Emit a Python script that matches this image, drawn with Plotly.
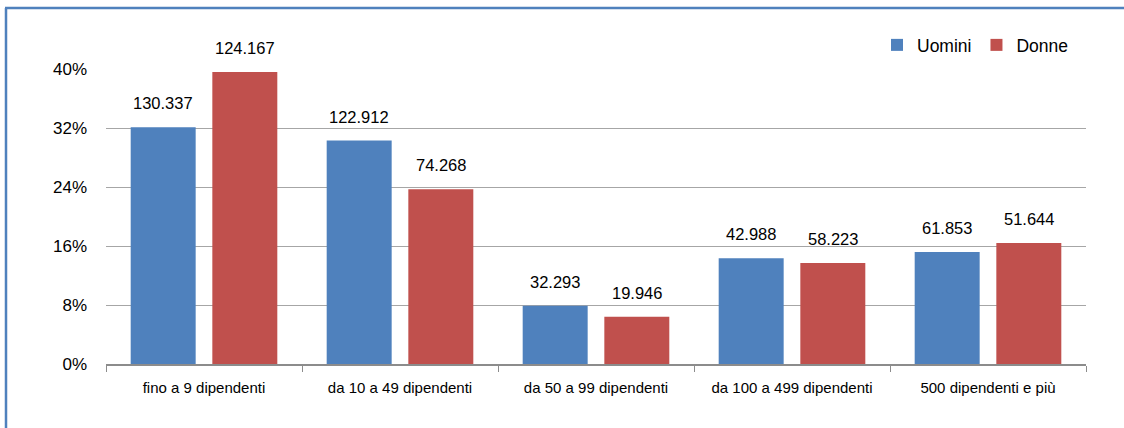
import plotly.graph_objects as go

categories = ["fino a 9 dipendenti", "da 10 a 49 dipendenti", "da 50 a 99 dipendenti",
              "da 100 a 499 dipendenti", "500 dipendenti e più"]
uomini_pct = [32.1, 30.3, 7.9, 14.35, 15.2]
donne_pct = [39.6, 23.7, 6.4, 13.7, 16.4]
uomini_n = [130337, 122912, 32293, 42988, 61853]
donne_n = [124167, 74268, 19946, 58223, 51644]
y_ticks = [0, 8, 16, 24, 32, 40]

BLUE = "#4F81BD"
RED = "#C0504D"
FONT = "Liberation Sans, Arial, sans-serif"


def fmt(v):
    return f"{v:,}".replace(",", ".")


fig = go.Figure()
fig.add_trace(go.Bar(name="Uomini", x=categories, y=uomini_pct, marker_color=BLUE,
                     marker_line_width=0))
fig.add_trace(go.Bar(name="Donne", x=categories, y=donne_pct, marker_color=RED,
                     marker_line_width=0))

BARGAP, GROUPGAP = 0.167, 0.204
slot = (1 - BARGAP) / 2
# value labels above bars (offset groups: Uomini left, Donne right)
annotations = []
for i, c in enumerate(categories):
    for vals, nums, off in ((uomini_pct, uomini_n, -slot / 2), (donne_pct, donne_n, slot / 2)):
        annotations.append(dict(x=i + off, y=vals[i], xref="x", yref="y",
                                text=fmt(nums[i]), showarrow=False, yanchor="middle",
                                yshift=24, font=dict(size=16.5, color="#000", family=FONT)))

L, R, T, B = 106, 38, 69, 64
W, H = 1124, 428
pw, ph = W - L - R, H - T - B


def px(x):
    return (x - L) / pw


def py(y):
    return (H - B - y) / ph


shapes = [
    dict(type="line", xref="paper", yref="paper", x0=px(6), x1=px(6), y0=py(440), y1=py(8),
         line=dict(color=BLUE, width=2.5)),
    dict(type="line", xref="paper", yref="paper", x0=px(5), x1=px(1140), y0=py(8), y1=py(8),
         line=dict(color=BLUE, width=2.5)),
]

fig.update_layout(
    width=W, height=H,
    margin=dict(l=L, r=R, t=T, b=B, autoexpand=False),
    paper_bgcolor="white", plot_bgcolor="white",
    barmode="group", bargap=BARGAP, bargroupgap=GROUPGAP,
    font=dict(family=FONT, color="#000"),
    showlegend=True,
    legend=dict(orientation="h", x=px(1074), xanchor="right", y=py(45), yanchor="middle",
                font=dict(size=17.5, family=FONT), itemwidth=30, tracegroupgap=0,
                bgcolor="rgba(0,0,0,0)"),
    annotations=annotations,
    shapes=shapes,
)
fig.update_xaxes(type="category", showline=True, linecolor="#8C8C8C", linewidth=1.5,
                 ticks="outside", tickson="boundaries", ticklen=6, tickcolor="#8C8C8C",
                 tickwidth=1.2, tickfont=dict(size=15, family=FONT), showgrid=False,
                 tickangle=0, automargin=False, ticklabelstandoff=9)
fig.update_yaxes(range=[0, 40], tickvals=y_ticks, ticktext=[f"{v}%" for v in y_ticks],
                 showgrid=True, gridcolor="#A6A6A6", gridwidth=1.2, zeroline=False,
                 showline=False, ticks="", tickfont=dict(size=17, family=FONT),
                 automargin=False, ticklabelstandoff=18)

fig.write_html("out.html", config={"displayModeBar": False},
               post_script="document.body.style.margin='0';document.body.style.overflow='hidden';")
